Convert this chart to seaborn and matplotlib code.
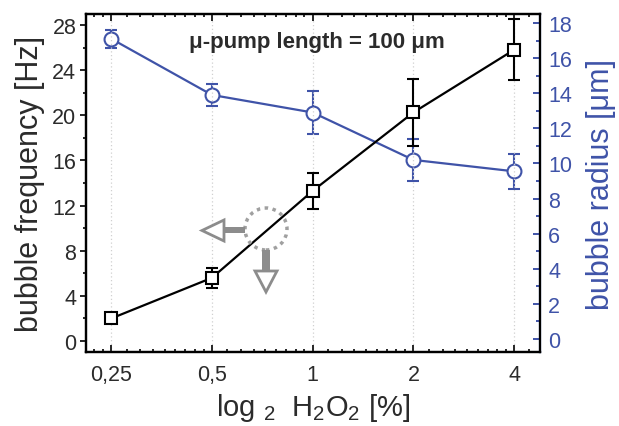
import numpy as np
import matplotlib
matplotlib.use("Agg")
import matplotlib.pyplot as plt
import seaborn as sns
from matplotlib.ticker import FixedLocator, MultipleLocator, NullFormatter
from matplotlib.patches import Ellipse, Polygon, Rectangle

# ---- data ----
conc = [0.25, 0.5, 1, 2, 4]
freq = [2.0, 5.6, 13.3, 20.25, 25.8]
freq_err = [0.0, 0.87, 1.6, 3.0, 2.7]
radius = [17.1, 13.9, 12.9, 10.2, 9.55]
radius_err = [0.5, 0.65, 1.25, 1.2, 1.0]
x_ticks = [0.25, 0.5, 1, 2, 4]
x_labels = ["0,25", "0,5", "1", "2", "4"]
title_text = "\u03bc-pump length = 100 \u03bcm"

BLUE = "#3F53A8"
TXT = "#2b2b2b"

sns.set_style("white")
plt.rcParams["font.family"] = ["Liberation Sans", "DejaVu Sans"]
plt.rcParams["mathtext.fontset"] = "custom"
plt.rcParams["mathtext.rm"] = "Liberation Sans"
plt.rcParams["mathtext.it"] = "Liberation Sans:italic"
plt.rcParams["mathtext.bf"] = "Liberation Sans:bold"

fig = plt.figure(figsize=(6.19, 4.27), dpi=100)
L, R, B, T = 86, 540, 353, 15
W, H = 619, 427
ax = fig.add_axes([L / W, (H - B) / H, (R - L) / W, (B - T) / H])
ax.set_xscale("log", base=2)

# black series: frequency
ax.errorbar(conc, freq, yerr=freq_err, fmt="none", ecolor="black",
            elinewidth=1.5, capsize=4, capthick=1.5, zorder=3)
sns.lineplot(x=conc, y=freq, ax=ax, color="black", linewidth=1.6,
             marker="s", markersize=8, markerfacecolor="white",
             markeredgecolor="black", markeredgewidth=1.5, zorder=4)

ax.set_xlim(0.2102, 4.78)
ax.set_ylim(-0.97, 28.97)
ax.xaxis.set_major_locator(FixedLocator(x_ticks))
ax.set_xticklabels(x_labels)
minor = []
for b in [0.125, 0.25, 0.5, 1, 2, 4]:
    for k in range(1, 9):
        minor.append(b * (1 + k / 9))
ax.xaxis.set_minor_locator(FixedLocator(minor))
ax.xaxis.set_minor_formatter(NullFormatter())
ax.yaxis.set_major_locator(MultipleLocator(4))
ax.yaxis.set_minor_locator(MultipleLocator(2))

ax.tick_params(axis="x", which="both", direction="in", top=True, bottom=True,
               labelsize=15.5, labelcolor=TXT, width=1.4, pad=9)
ax.tick_params(axis="x", which="major", length=5)
ax.tick_params(axis="x", which="minor", length=2.5)
ax.tick_params(axis="y", which="both", direction="out", left=True, right=False,
               labelsize=15.5, labelcolor=TXT, width=1.4, pad=3)
ax.tick_params(axis="y", which="major", length=4)
ax.tick_params(axis="y", which="minor", length=2.5)
ax.xaxis.grid(True, which="major", color="#d0d0d0", linestyle=(0, (1, 2)), linewidth=0.9)
ax.yaxis.grid(False)
for s in ax.spines.values():
    s.set_linewidth(1.6)
    s.set_color("black")

ax.set_xlabel("log $_{2}$  H$_{2}$O$_{2}$ [%]", fontsize=21, color=TXT, labelpad=4)
ax.set_ylabel("bubble frequency [Hz]", fontsize=22, color=TXT, labelpad=5)

# blue series: radius
ax2 = ax.twinx()
ax2.errorbar(conc, radius, yerr=radius_err, fmt="none", ecolor=BLUE,
             elinewidth=1.5, capsize=4, capthick=1.5, zorder=3)
sns.lineplot(x=conc, y=radius, ax=ax2, color=BLUE, linewidth=1.6,
             marker="o", markersize=10, markerfacecolor="white",
             markeredgecolor=BLUE, markeredgewidth=1.5, zorder=4)
ax2.set_ylim(-0.74, 18.51)
ax2.yaxis.set_major_locator(MultipleLocator(2))
ax2.yaxis.set_minor_locator(MultipleLocator(1))
ax2.tick_params(axis="y", which="both", direction="in", right=True, left=False,
                labelsize=15.5, labelcolor=BLUE, color=BLUE, width=1.4, pad=6)
ax2.tick_params(axis="y", which="major", length=5)
ax2.tick_params(axis="y", which="minor", length=3)
ax2.set_ylabel("bubble radius [\u03bcm]", fontsize=22, color=BLUE, labelpad=10)
for name, s in ax2.spines.items():
    s.set_linewidth(1.6)
    s.set_color("black")
ax2.spines["right"].set_color(BLUE)
ax2.grid(False)
ax.set_zorder(ax2.get_zorder() + 1)
ax.patch.set_visible(False)

ax.text(0.509, 0.92, title_text, transform=ax.transAxes, ha="center", va="center",
        fontsize=16, fontweight="bold", color=TXT)

# decorative arrows (pixel -> axes fraction)
def fr(px, py):
    return ((px - L) / (R - L), (B - py) / (B - T))

gray = "#8c8c8c"
cx, cy = fr(266, 230)
ax.add_patch(Ellipse((cx, cy), 42 / (R - L), 42 / (B - T), transform=ax.transAxes,
                     fill=False, edgecolor="#a0a0a0", linewidth=2.5,
                     linestyle=(0, (1, 1.3)), zorder=6, clip_on=False))
x0, y0 = fr(223, 234)
ax.add_patch(Rectangle((x0, y0), 22 / (R - L), 6 / (B - T), transform=ax.transAxes,
                       facecolor=gray, edgecolor="none", zorder=6))
ax.add_patch(Polygon([fr(202, 231.5), fr(224, 221), fr(224, 242)], closed=True,
                     transform=ax.transAxes, facecolor="white", edgecolor=gray,
                     linewidth=2, zorder=6))
x0, y0 = fr(262, 272)
ax.add_patch(Rectangle((x0, y0), 8 / (R - L), 21 / (B - T), transform=ax.transAxes,
                       facecolor=gray, edgecolor="none", zorder=6))
ax.add_patch(Polygon([fr(255, 272), fr(277, 272), fr(266, 293)], closed=True,
                     transform=ax.transAxes, facecolor="white", edgecolor=gray,
                     linewidth=2, zorder=6))

fig.savefig("out.png", dpi=100)
